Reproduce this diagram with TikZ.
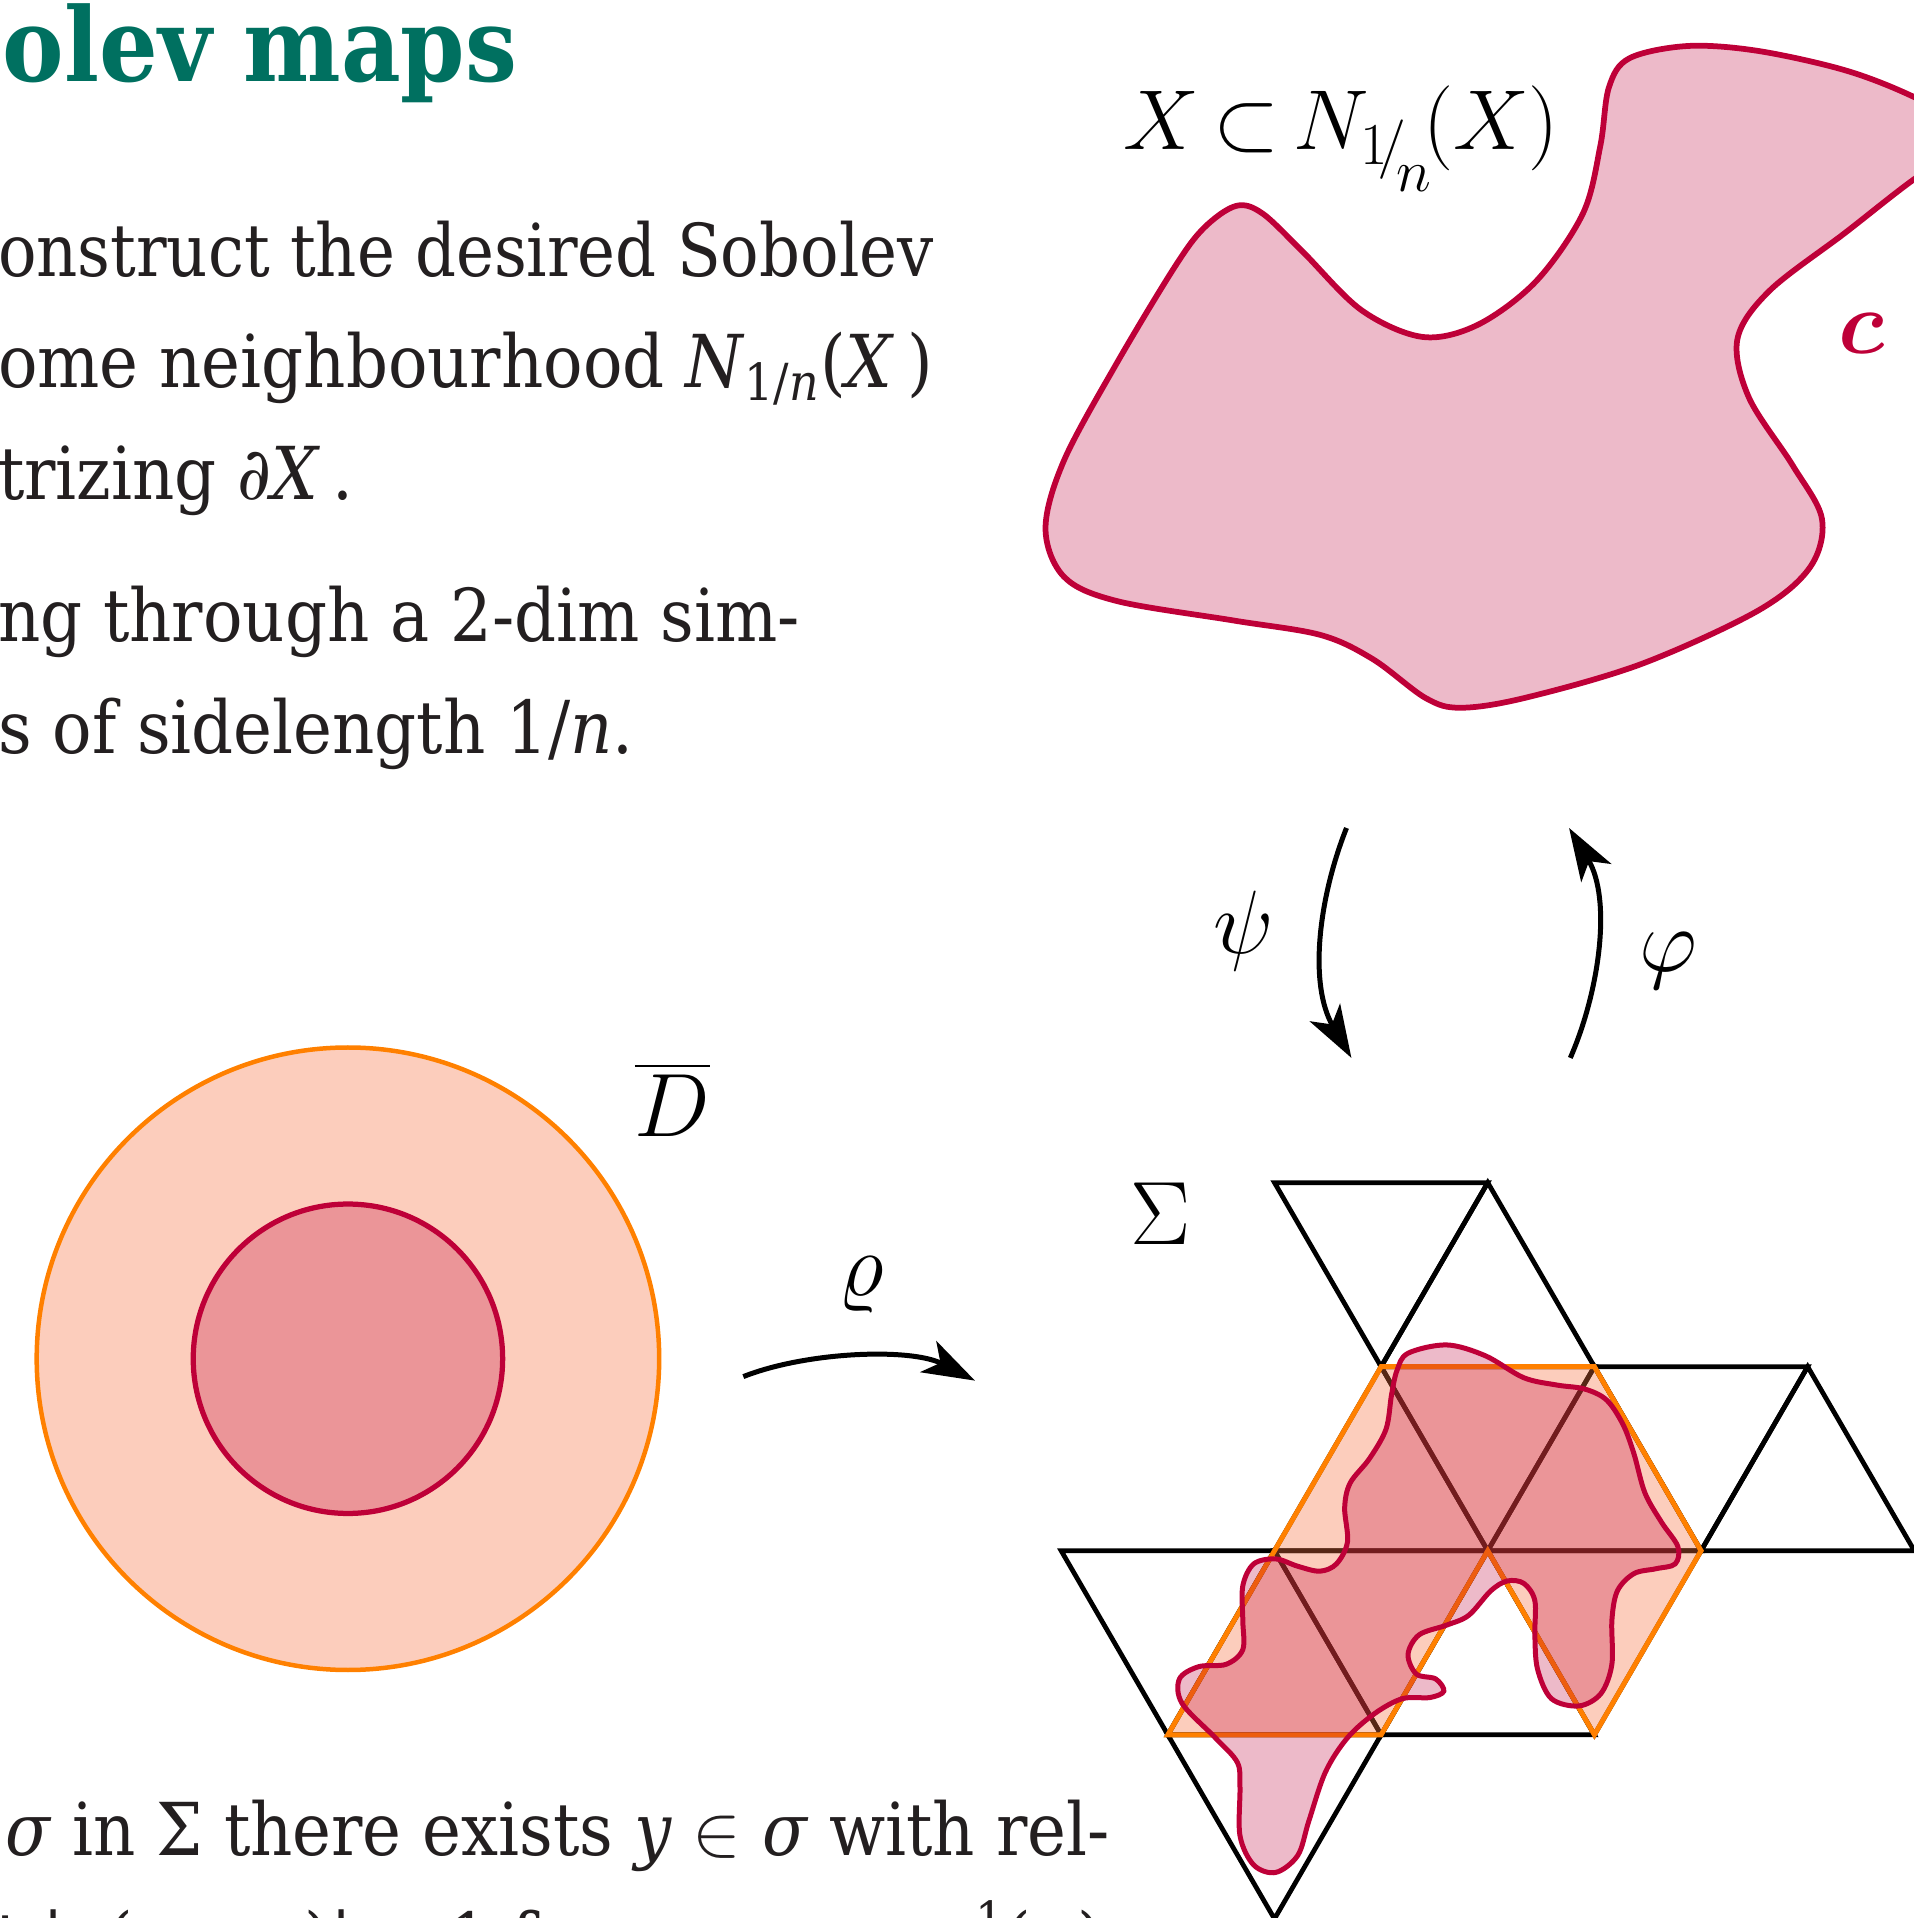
\RequirePackage{fix-cm}
\documentclass[tikz,border=0pt]{standalone}
\usepackage{amsmath}
\usepackage[no-math]{fontspec}
\setmainfont{DejaVu Serif Condensed}
\usetikzlibrary{arrows.meta}
\definecolor{crim}{RGB}{190,0,56}
\definecolor{orng}{RGB}{255,128,0}
\definecolor{ofill}{RGB}{247,113,63}
\definecolor{teal2}{RGB}{0,112,96}
\definecolor{ink}{RGB}{35,31,32}
\tikzset{
  body/.style={anchor=base west, inner sep=0pt, text=ink, font=\fontsize{29.2}{35}\selectfont},
  ttl/.style={anchor=base west, inner sep=0pt, text=teal2, font=\fontsize{41}{49}\selectfont\bfseries},
  lab/.style={inner sep=0pt, font=\fontsize{36}{40}\selectfont},
  lattice/.style={draw=black, line width=1.9pt, line join=miter},
  oregion/.style={fill=ofill, fill opacity=0.35, draw=orng, line width=2pt, line join=miter},
  xregion/.style={fill=crim, fill opacity=0.27, draw=crim, line width=2.3pt},
  maparrow/.style={draw=black, line width=2pt, -{Stealth[length=21pt, width=14pt, inset=5.5pt]}},
}
\begin{document}
\begin{tikzpicture}[x=0.4893pt, y=-0.4893pt]
\useasboundingbox (0,0) rectangle (1565,1568.3);

% ---------- text ----------
\node[ttl] (title) at (2,67) {olev maps};
\node[body] (l1) at (-2,225.7) {\scalebox{0.975}[1]{onstruct the desired Sobolev}};
\node[body] (l2) at (-2,317) {ome neighbourhood \textit{N}\textsubscript{1/\textit{n}}(\textit{X}\,)};
\node[body] (l3) at (-2,408.8) {trizing \textit{∂X}\,.};
\node[body] (l4) at (-2,524.6) {ng through a 2-dim sim-};
\node[body] (l5) at (-2,616) {s of sidelength 1/\textit{n}.};
\node[body] (l6) at (4,1517) {\textit{σ} in Σ there exists \textit{y} $\in$ \textit{σ} with rel-};
\node[body] (l7) at (-4,1607) {t |\textit{u}(\textit{x} − \textit{y})| ≤ 1 for any \textit{x} $\in$ \textit{u}\textsuperscript{−1}(\textit{σ})};

% ---------- region X ----------
\draw[xregion] plot[smooth cycle, tension=0.55] coordinates {
 (854.9,432) (870,376.5) (913,297.2) (960.7,218) (984.5,186.3) (1010.6,168.4)
 (1032.1,174.4) (1065.4,206) (1113.2,253.6) (1163.2,275.5) (1208.5,265.5)
 (1256.2,229.8) (1294.4,174.4) (1308.6,118.9) (1315.6,71.3) (1332.4,47.6)
 (1380,37.6) (1437.3,41.6) (1508.8,57.5) (1565,79.3) (1620,110) (1565,146.6)
 (1508.8,190.3) (1446.8,237.8) (1420.6,277.4) (1430,325) (1465.8,380.5)
 (1489.7,424) (1480.1,463.7) (1437.3,499.4) (1341.9,543) (1246.6,570.7)
 (1194.2,578.7) (1165.6,570.7) (1122.6,539) (1079.8,519.2) (1008.3,507.3)
 (913,491.4) (870,471.6)};
\node[lab, anchor=base west, font=\fontsize{34}{38}\selectfont] (Xlab) at (918,122)
  {$X\mkern-2mu\subset\mkern-2mu N_{1\mkern-3mu/\mkern-3mu\raisebox{-0.6ex}{$\scriptstyle n$}}\mkern-2mu(X)$};
\node[lab, text=crim] (clab) at (1522,273) {$\boldsymbol{c}$};

% ---------- maps psi, phi ----------
\coordinate (psiS) at (1101,677);
\coordinate (psiE) at (1105,865);
\draw[maparrow] (psiS) .. controls (1078,735) and (1070,805) .. (psiE);
\coordinate (phiS) at (1284,865);
\coordinate (phiE) at (1283,677);
\draw[maparrow] (phiS) .. controls (1308,810) and (1318,735) .. (phiE);
\node[lab] (psi) at (1017,761) {$\psi$};
\node[lab] (phi) at (1364,786) {$\varphi$};

% ---------- disk ----------
\coordinate (dc) at (284.5,1111);
\draw[oregion, line width=1.8pt] (dc) circle[radius=254.5];
\draw[xregion, line width=2.1pt] (dc) circle[radius=126.5];
\node[lab] (Dbar) at (550,899) {$\overline{D}$};

% ---------- map rho ----------
\coordinate (rhoS) at (607.8,1125.6);
\coordinate (rhoE) at (797.2,1128.9);
\draw[maparrow] (rhoS) .. controls (660,1105) and (745,1102) .. (rhoE);
\node[lab] (rho) at (704.5,1050.7) {$\varrho$};

% ---------- simplicial complex Sigma ----------
\coordinate (A1) at (1042.1,967);
\coordinate (A2) at (1216.5,967);
\coordinate (B1) at (1129.3,1117.5);
\coordinate (B2) at (1303.7,1117.5);
\coordinate (B3) at (1478.1,1117.5);
\coordinate (C0) at (867.7,1268);
\coordinate (C1) at (1042.1,1268);
\coordinate (C2) at (1216.5,1268);
\coordinate (C3) at (1390.9,1268);
\coordinate (C4) at (1565.3,1268);
\coordinate (D1) at (954.9,1418.5);
\coordinate (D2) at (1129.3,1418.5);
\coordinate (D3) at (1303.7,1418.5);
\coordinate (E1) at (1042.1,1569);
\draw[lattice] (A1)--(A2)--(B1)--cycle;
\draw[lattice] (A2)--(B2)--(B1)--cycle;
\draw[lattice] (B1)--(B2)--(C2)--cycle;
\draw[lattice] (B1)--(C2)--(C1)--cycle;
\draw[lattice] (B2)--(C3)--(C2)--cycle;
\draw[lattice] (C2)--(C3)--(D3)--cycle;
\draw[lattice] (C2)--(D3)--(D2)--cycle;
\draw[lattice] (C1)--(C2)--(D2)--cycle;
\draw[lattice] (C1)--(D2)--(D1)--cycle;
\draw[lattice] (C0)--(C1)--(D1)--cycle;
\draw[lattice] (D1)--(D2)--(E1)--cycle;
\draw[lattice] (B2)--(B3)--(C3)--cycle;
\draw[lattice] (B3)--(C4)--(C3)--cycle;
\draw[oregion] (B1)--(B2)--(C3)--(D3)--(C2)--(D2)--(D1)--cycle;
\draw[xregion, line width=2pt] plot[smooth cycle, tension=0.55] coordinates {
 (1151.3,1106.5) (1182.9,1099.7) (1214.4,1108.5) (1245.9,1126.5) (1273,1132.5)
 (1295.5,1135.7) (1313.5,1144.6) (1327,1164.6) (1336,1188.6) (1345,1220.7)
 (1358.6,1244.7) (1372,1264.7) (1369.8,1278.7) (1354,1282.7) (1336,1286.7)
 (1322.5,1300.8) (1318,1324.8) (1318,1360.8) (1309,1384.8) (1291,1394.9)
 (1268.5,1388.9) (1257.2,1364.8) (1255,1336.8) (1255,1308.8) (1246,1294.7)
 (1232.4,1292.7) (1218.9,1300.8) (1200.9,1320.8) (1182.9,1328.8) (1160.3,1336.8)
 (1151.3,1352.8) (1158.1,1368.8) (1173.9,1372.8) (1180.6,1382.8) (1169.3,1388)
 (1146.8,1388.9) (1124.3,1400.9) (1101.8,1420.9) (1083.8,1448.9) (1070.2,1489)
 (1061.2,1517) (1043.2,1531) (1025.2,1525) (1013.9,1501) (1013.9,1461)
 (1011.7,1441) (993.7,1420.9) (966.6,1392.9) (964.4,1372.8) (980.1,1362.8)
 (1002.7,1360.8) (1016.2,1348.8) (1016.2,1324.8) (1016.2,1296.7) (1025.2,1278.7)
 (1043.2,1274.7) (1061.2,1280.7) (1079.2,1284.7) (1092.8,1278.7) (1101.8,1260.7)
 (1099.5,1232.7) (1104,1212.6) (1119.8,1192.6) (1133.3,1168.6) (1137.8,1140.6)
 (1142.3,1120.5)};
\node[lab] (Sig) at (949,992.5) {$\Sigma$};
\end{tikzpicture}
\end{document}
